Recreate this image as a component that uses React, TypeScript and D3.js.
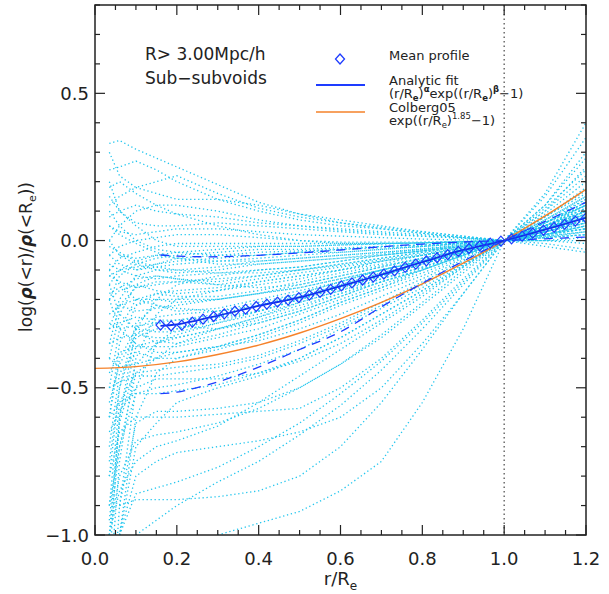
import React from 'react';
import * as d3 from 'd3';

// ---------- data ----------
const radii = [0.035, 0.06, 0.1, 0.15, 0.2, 0.3, 0.4, 0.5, 0.6, 0.7, 0.8, 0.9, 1.0, 1.1, 1.2];

type V = number | null;
const subvoidProfiles: V[][] = [
  [0.33, 0.34, 0.31, 0.28, 0.25, 0.19, 0.13, 0.09, 0.07, 0.05, 0.03, 0.015, 0, -0.02, -0.04],
  [0.24, 0.25, 0.27, 0.24, 0.2, 0.14, 0.1, 0.07, 0.05, 0.04, 0.025, 0.01, 0, 0.01, 0.02],
  [0.3, 0.22, 0.18, 0.2, 0.22, 0.16, 0.11, 0.08, 0.06, 0.045, 0.03, 0.015, 0, 0.03, 0.06],
  [0.12, 0.15, 0.18, 0.16, 0.14, 0.14, 0.12, 0.09, 0.06, 0.04, 0.025, 0.01, 0, 0.02, 0.05],
  [0.08, 0.1, 0.12, 0.1, 0.09, 0.08, 0.06, 0.05, 0.04, 0.03, 0.02, 0.01, 0, 0.05, 0.12],
  [0.15, 0.1, 0.06, 0.05, 0.05, 0.06, 0.05, 0.04, 0.03, 0.02, 0.015, 0.008, 0, 0.015, 0.03],
  [0.05, 0.03, 0.02, 0.03, 0.04, 0.04, 0.03, 0.02, 0.015, 0.01, 0.005, 0.002, 0, 0.0, -0.01],
  [-0.05, -0.02, 0.0, 0.01, 0.02, 0.02, 0.01, 0.0, -0.005, -0.005, -0.005, -0.003, 0, 0.02, 0.05],
  [-0.1, -0.06, -0.04, -0.02, -0.01, -0.01, -0.01, -0.01, -0.01, -0.01, -0.008, -0.004, 0, 0.01, 0.03],
  [-0.2, -0.12, -0.08, -0.06, -0.05, -0.04, -0.03, -0.03, -0.025, -0.02, -0.015, -0.008, 0, 0.03, 0.07],
  [-0.15, -0.1, -0.09, -0.08, -0.07, -0.06, -0.05, -0.04, -0.03, -0.025, -0.02, -0.01, 0, 0.02, 0.06],
  [0.0, -0.05, -0.08, -0.1, -0.1, -0.09, -0.07, -0.06, -0.05, -0.04, -0.03, -0.015, 0, 0.04, 0.09],
  [-0.3, -0.2, -0.12, -0.1, -0.11, -0.1, -0.08, -0.07, -0.06, -0.05, -0.035, -0.02, 0, 0.05, 0.12],
  [-0.08, -0.1, -0.12, -0.13, -0.12, -0.11, -0.1, -0.09, -0.07, -0.05, -0.035, -0.018, 0, 0.03, 0.08],
  [-0.4, -0.25, -0.15, -0.12, -0.13, -0.14, -0.12, -0.1, -0.08, -0.06, -0.04, -0.02, 0, 0.04, 0.1],
  [-0.12, -0.14, -0.16, -0.15, -0.14, -0.15, -0.13, -0.11, -0.09, -0.07, -0.05, -0.025, 0, 0.06, 0.14],
  [-0.2, -0.17, -0.15, -0.17, -0.18, -0.17, -0.15, -0.13, -0.1, -0.08, -0.05, -0.025, 0, 0.02, 0.05],
  [-0.5, -0.3, -0.2, -0.18, -0.19, -0.19, -0.17, -0.14, -0.11, -0.085, -0.06, -0.03, 0, 0.04, 0.09],
  [-0.25, -0.22, -0.2, -0.2, -0.21, -0.2, -0.18, -0.15, -0.12, -0.09, -0.06, -0.03, 0, 0.03, 0.06],
  [null, null, -0.1, -0.08, -0.06, -0.05, -0.05, -0.04, -0.04, -0.03, -0.02, -0.01, 0, -0.01, -0.03],
  [null, -0.05, -0.06, -0.05, -0.04, -0.03, -0.02, -0.02, -0.015, -0.01, -0.008, -0.004, 0, 0.01, 0.02],
  [-0.6, -0.4, -0.3, -0.26, -0.25, -0.24, -0.21, -0.18, -0.14, -0.1, -0.07, -0.035, 0, 0.04, 0.08],
  [-0.3, -0.28, -0.26, -0.27, -0.27, -0.25, -0.22, -0.19, -0.15, -0.11, -0.075, -0.04, 0, 0.05, 0.1],
  [-0.8, -0.5, -0.33, -0.3, -0.3, -0.27, -0.24, -0.2, -0.16, -0.12, -0.08, -0.04, 0, 0.03, 0.07],
  [-0.15, -0.25, -0.3, -0.31, -0.31, -0.28, -0.25, -0.21, -0.17, -0.13, -0.09, -0.045, 0, 0.06, 0.12],
  [-0.35, -0.33, -0.32, -0.33, -0.33, -0.3, -0.26, -0.22, -0.18, -0.14, -0.095, -0.048, 0, 0.04, 0.08],
  [-1.0, -0.6, -0.36, -0.34, -0.35, -0.32, -0.28, -0.24, -0.19, -0.14, -0.1, -0.05, 0, 0.05, 0.11],
  [-0.45, -0.38, -0.36, -0.36, -0.36, -0.33, -0.3, -0.25, -0.2, -0.15, -0.1, -0.05, 0, 0.03, 0.06],
  [-0.2, -0.3, -0.35, -0.38, -0.38, -0.36, -0.32, -0.27, -0.21, -0.16, -0.11, -0.055, 0, 0.07, 0.15],
  [-0.7, -0.45, -0.38, -0.4, -0.4, -0.37, -0.33, -0.28, -0.22, -0.17, -0.12, -0.06, 0, 0.05, 0.1],
  [null, -0.22, -0.24, -0.23, -0.22, -0.2, -0.18, -0.16, -0.13, -0.1, -0.07, -0.035, 0, 0.02, 0.04],
  [-0.1, -0.15, -0.2, -0.22, -0.24, -0.23, -0.2, -0.17, -0.14, -0.1, -0.07, -0.035, 0, 0.04, 0.09],
  [-0.9, -0.55, -0.45, -0.44, -0.43, -0.42, -0.39, -0.34, -0.28, -0.21, -0.14, -0.07, 0, 0.06, 0.13],
  [-0.5, -0.48, -0.46, -0.46, -0.45, -0.43, -0.4, -0.35, -0.29, -0.22, -0.15, -0.075, 0, 0.08, 0.18],
  [-1.0, -0.7, -0.52, -0.5, -0.49, -0.46, -0.42, -0.37, -0.3, -0.23, -0.16, -0.08, 0, 0.05, 0.1],
  [-0.6, -0.55, -0.52, -0.52, -0.51, -0.49, -0.45, -0.4, -0.33, -0.25, -0.17, -0.085, 0, 0.1, 0.22],
  [null, -0.9, -0.62, -0.58, -0.58, -0.57, -0.55, -0.5, -0.42, -0.32, -0.21, -0.1, 0, 0.07, 0.14],
  [-0.8, -0.65, -0.6, -0.6, -0.6, -0.59, -0.58, -0.57, -0.5, -0.4, -0.27, -0.13, 0, 0.12, 0.28],
  [-1.0, -0.8, -0.68, -0.66, -0.65, -0.62, -0.57, -0.5, -0.42, -0.33, -0.22, -0.11, 0, 0.09, 0.2],
  [null, -1.0, -0.86, -0.84, -0.82, -0.77, -0.7, -0.62, -0.52, -0.41, -0.28, -0.14, 0, 0.15, 0.35],
  [null, -0.9, -0.88, -0.88, -0.88, -0.87, -0.85, -0.8, -0.7, -0.55, -0.37, -0.18, 0, 0.1, 0.25],
  [null, null, null, null, null, -1.0, -0.96, -0.92, -0.85, -0.75, -0.55, -0.3, 0, 0.16, 0.4],
  [null, -1.0, -0.8, -0.75, -0.72, -0.7, -0.68, -0.65, -0.6, -0.5, -0.35, -0.18, 0, 0.12, 0.3],
  [-1.0, -0.85, -0.75, -0.7, -0.68, -0.63, -0.55, -0.46, -0.37, -0.28, -0.19, -0.09, 0, 0.08, 0.16],
  [null, null, -1.0, -0.95, -0.9, -0.82, -0.75, -0.66, -0.56, -0.44, -0.3, -0.15, 0, 0.11, 0.24],
  [-1.4, -0.9, -0.5, -0.35, -0.3, -0.26, -0.22, -0.18, -0.14, -0.1, -0.07, -0.035, 0, 0.03, 0.07],
  [-1.2, -0.75, -0.4, -0.25, -0.2, -0.17, -0.14, -0.12, -0.1, -0.07, -0.05, -0.025, 0, 0.02, 0.04],
  [-1.1, -0.6, -0.3, -0.2, -0.15, -0.12, -0.1, -0.09, -0.07, -0.05, -0.035, -0.018, 0, 0.04, 0.08],
  [-0.9, -0.7, -0.45, -0.4, -0.35, -0.3, -0.26, -0.21, -0.17, -0.12, -0.08, -0.04, 0, 0.06, 0.12],
  [-0.55, -0.42, -0.32, -0.28, -0.29, -0.3, -0.28, -0.24, -0.19, -0.14, -0.1, -0.05, 0, 0.05, 0.1],
  [-0.05, -0.08, -0.1, -0.09, -0.08, -0.07, -0.06, -0.05, -0.04, -0.03, -0.02, -0.01, 0, 0.02, 0.04],
  [0.1, 0.05, 0.0, -0.03, -0.04, -0.05, -0.04, -0.035, -0.03, -0.02, -0.015, -0.008, 0, 0.03, 0.07],
  [-0.35, -0.22, -0.16, -0.14, -0.14, -0.13, -0.12, -0.1, -0.08, -0.06, -0.04, -0.02, 0, 0.05, 0.11],
  [null, null, -0.22, -0.18, -0.17, -0.16, -0.14, -0.12, -0.1, -0.07, -0.05, -0.025, 0, 0.04, 0.09],
  [0.2, 0.1, 0.05, 0.0, -0.02, -0.02, -0.02, -0.02, -0.015, -0.012, -0.008, -0.004, 0, 0.0, 0.01],
  [-0.6, -0.35, -0.22, -0.2, -0.2, -0.2, -0.18, -0.16, -0.13, -0.1, -0.065, -0.032, 0, 0.045, 0.1],
  [-0.02, -0.04, -0.07, -0.09, -0.1, -0.11, -0.11, -0.1, -0.085, -0.065, -0.045, -0.022, 0, 0.02, 0.05],
  [0.05, 0.02, -0.01, -0.04, -0.06, -0.08, -0.08, -0.07, -0.06, -0.045, -0.03, -0.015, 0, 0.015, 0.03],
  [-0.18, -0.16, -0.13, -0.12, -0.13, -0.15, -0.16, -0.15, -0.12, -0.09, -0.06, -0.03, 0, 0.05, 0.11],
  [-0.75, -0.5, -0.28, -0.22, -0.23, -0.24, -0.22, -0.19, -0.15, -0.11, -0.075, -0.038, 0, 0.04, 0.08],
  [null, null, -0.3, -0.35, -0.32, -0.28, -0.24, -0.2, -0.16, -0.12, -0.08, -0.04, 0, 0.06, 0.13],
  [-0.28, -0.3, -0.29, -0.28, -0.27, -0.26, -0.24, -0.2, -0.16, -0.12, -0.08, -0.04, 0, 0.035, 0.07],
  [-1.3, -1.0, -0.6, -0.45, -0.4, -0.36, -0.32, -0.27, -0.21, -0.16, -0.1, -0.05, 0, 0.06, 0.12],
  [-0.95, -0.62, -0.42, -0.35, -0.33, -0.3, -0.27, -0.23, -0.18, -0.13, -0.09, -0.045, 0, 0.05, 0.09],
  [0.18, 0.2, 0.16, 0.12, 0.09, 0.05, 0.02, 0.0, -0.01, -0.01, -0.008, -0.004, 0, 0.0, 0.0],
  [0.0, 0.05, 0.1, 0.12, 0.12, 0.1, 0.07, 0.05, 0.035, 0.025, 0.015, 0.008, 0, 0.02, 0.04],
  [-0.4, -0.43, -0.42, -0.4, -0.38, -0.36, -0.34, -0.3, -0.25, -0.19, -0.13, -0.065, 0, 0.06, 0.13],
  [-0.65, -0.58, -0.5, -0.47, -0.47, -0.47, -0.45, -0.41, -0.35, -0.27, -0.18, -0.09, 0, 0.08, 0.17],
  [null, -1.0, -0.7, -0.62, -0.55, -0.5, -0.46, -0.4, -0.33, -0.25, -0.17, -0.085, 0, 0.07, 0.15],
  [-0.12, -0.1, -0.07, -0.05, -0.06, -0.07, -0.07, -0.06, -0.05, -0.04, -0.028, -0.014, 0, 0.01, 0.02],
];

const meanR = [0.16, 0.186, 0.212, 0.238, 0.264, 0.29, 0.316, 0.342, 0.368, 0.394, 0.42, 0.446, 0.472, 0.498, 0.524, 0.55, 0.576, 0.602, 0.628, 0.654, 0.68, 0.706, 0.732, 0.758, 0.784, 0.81, 0.836, 0.862, 0.888, 0.914, 0.94, 0.966, 0.992, 1.018, 1.044, 1.07, 1.096, 1.122, 1.148, 1.174, 1.2];
const meanV = [-0.287, -0.29, -0.287, -0.277, -0.267, -0.258, -0.249, -0.24, -0.233, -0.224, -0.216, -0.209, -0.202, -0.194, -0.185, -0.176, -0.166, -0.154, -0.144, -0.134, -0.124, -0.114, -0.103, -0.091, -0.08, -0.069, -0.058, -0.048, -0.037, -0.027, -0.018, -0.009, -0.002, 0.006, 0.015, 0.025, 0.035, 0.045, 0.055, 0.066, 0.077];

const bandR = [0.16, 0.2, 0.3, 0.4, 0.5, 0.6, 0.7, 0.8, 0.9, 1.0, 1.1, 1.2];
const fitV = [-0.29, -0.285, -0.255, -0.222, -0.193, -0.155, -0.116, -0.073, -0.032, 0, 0.037, 0.077];
const upperV = [-0.049, -0.053, -0.055, -0.05, -0.042, -0.032, -0.021, -0.012, -0.005, 0, 0.006, 0.012];
const lowerV = [-0.52, -0.515, -0.48, -0.43, -0.37, -0.31, -0.225, -0.145, -0.07, 0, 0.065, 0.13];

const colbergR = [0, 0.1, 0.2, 0.3, 0.4, 0.5, 0.6, 0.7, 0.8, 0.9, 1.0, 1.1, 1.2];
const colbergV = [-0.434, -0.428, -0.412, -0.387, -0.355, -0.314, -0.265, -0.21, -0.147, -0.077, 0, 0.0837, 0.174];

const xTicksMajor = [0, 0.2, 0.4, 0.6, 0.8, 1.0, 1.2];
const yTicksMajor = [-1.0, -0.5, 0.0, 0.5];

// ---------- layout ----------
const W = 609, H = 594;
const L = 95, Rt = 586, T = 5, B = 535;
const CYAN = '#22c6ee';
const BLUE = '#1e3cff';
const ORANGE = '#f5822a';
const FONT = '"DejaVu Sans", Verdana, sans-serif';

export default function App() {
  const x = d3.scaleLinear().domain([0, 1.2]).range([L, Rt]);
  const y = d3.scaleLinear().domain([-1, 0.8]).range([B, T]);

  const lineNullable = d3.line<[number, V]>()
    .defined(d => d[1] !== null)
    .x(d => x(d[0]))
    .y(d => y(d[1] as number));
  const smooth = d3.line<[number, number]>().x(d => x(d[0])).y(d => y(d[1])).curve(d3.curveCatmullRom);

  const xMinor = d3.range(0, 1.2001, 0.05);
  const yMinor = d3.range(-1, 0.8001, 0.1);

  const diamond = 'M0,-5L4.5,0L0,5L-4.5,0Z';

  const ticks: React.ReactNode[] = [];
  xMinor.forEach((v, i) => {
    const major = xTicksMajor.some(m => Math.abs(m - v) < 1e-6);
    const len = major ? 10 : 5;
    const px = x(v);
    ticks.push(<line key={'xb' + i} x1={px} x2={px} y1={B} y2={B - len} stroke="#222" strokeWidth={1.2} />);
    ticks.push(<line key={'xt' + i} x1={px} x2={px} y1={T} y2={T + len} stroke="#222" strokeWidth={1.2} />);
  });
  yMinor.forEach((v, i) => {
    const major = yTicksMajor.some(m => Math.abs(m - v) < 1e-6);
    const len = major ? 10 : 5;
    const py = y(v);
    ticks.push(<line key={'yl' + i} x1={L} x2={L + len} y1={py} y2={py} stroke="#222" strokeWidth={1.2} />);
    ticks.push(<line key={'yr' + i} x1={Rt} x2={Rt - len} y1={py} y2={py} stroke="#222" strokeWidth={1.2} />);
  });

  const fmt = d3.format('.1f');

  return (
    <svg width={W} height={H} style={{ position: 'absolute', left: 0, top: 0, background: '#fff' }} fontFamily={FONT}>
      <defs>
        <clipPath id="plot"><rect x={L} y={T} width={Rt - L} height={B - T} /></clipPath>
      </defs>
      <rect x={0} y={0} width={W} height={H} fill="#fff" />
      <g clipPath="url(#plot)">
        {subvoidProfiles.map((p, i) => (
          <path key={i} d={lineNullable(radii.map((r, j) => [r, p[j]] as [number, V])) || ''}
            fill="none" stroke={CYAN} strokeWidth={1.3} strokeDasharray="1.3 2.7" />
        ))}
        <line x1={x(1)} x2={x(1)} y1={T} y2={B} stroke="#555" strokeWidth={1.3} strokeDasharray="1.5 3" />
        <path d={smooth(colbergR.map((r, j) => [r, colbergV[j]] as [number, number])) || ''} fill="none" stroke={ORANGE} strokeWidth={1.4} />
        <path d={smooth(bandR.map((r, j) => [r, upperV[j]] as [number, number])) || ''} fill="none" stroke={BLUE} strokeWidth={1.3} strokeDasharray="9 7" />
        <path d={smooth(bandR.map((r, j) => [r, lowerV[j]] as [number, number])) || ''} fill="none" stroke={BLUE} strokeWidth={1.3} strokeDasharray="9 7" />
        <path d={smooth(bandR.map((r, j) => [r, fitV[j]] as [number, number])) || ''} fill="none" stroke="#1030e8" strokeWidth={1.8} />
        {meanR.map((r, j) => (
          <path key={'d' + j} d={diamond} transform={`translate(${x(r)},${y(meanV[j])})`} fill="none" stroke={BLUE} strokeWidth={1.2} />
        ))}
      </g>

      {/* axes */}
      <rect x={L} y={T} width={Rt - L} height={B - T} fill="none" stroke="#222" strokeWidth={1.5} />
      {ticks}

      {xTicksMajor.map((v, i) => (
        <text key={'xl' + i} x={x(v)} y={565} textAnchor="middle" fontSize={18} fill="#222">{fmt(v)}</text>
      ))}
      {yTicksMajor.map((v, i) => (
        <text key={'yl' + i} x={89} y={y(v) + 6.5} textAnchor="end" fontSize={18} fill="#222">{fmt(v)}</text>
      ))}

      <text x={(L + Rt) / 2} y={585} textAnchor="middle" fontSize={18} fill="#222">
        r/R<tspan fontSize={12} dy={5}>e</tspan>
      </text>

      <text transform="translate(32,257) rotate(-90)" textAnchor="middle" fontSize={17} fill="#222">
        log(<tspan fontWeight="bold" fontStyle="italic">ρ</tspan>(&lt;r)/<tspan fontWeight="bold" fontStyle="italic">ρ</tspan>(&lt;R<tspan fontSize={11} dy={4}>e</tspan><tspan dy={-4}>))</tspan>
      </text>

      <text x={145} y={60} fontSize={17} fill="#222">R&gt; 3.00Mpc/h</text>
      <text x={145} y={84} fontSize={17} fill="#222">Sub−subvoids</text>

      {/* legend */}
      <path d={diamond} transform={`translate(340,59)`} fill="none" stroke={BLUE} strokeWidth={1.3} />
      <text x={389} y={60} fontSize={13} fill="#222">Mean profile</text>
      <line x1={316} x2={365} y1={85} y2={85} stroke={BLUE} strokeWidth={2} />
      <text x={389} y={85} fontSize={13} fill="#222">Analytic fit</text>
      <text x={389} y={98} fontSize={13} fill="#222">
        (r/R<tspan fontSize={8.5} dy={3} fontWeight="bold">e</tspan><tspan dy={-3}>)</tspan><tspan fontSize={8.5} dy={-6} fontWeight="bold">α</tspan><tspan dy={6}>exp((r/R</tspan><tspan fontSize={8.5} dy={3} fontWeight="bold">e</tspan><tspan dy={-3}>)</tspan><tspan fontSize={8.5} dy={-6} fontWeight="bold">β</tspan><tspan dy={6}>−1)</tspan>
      </text>
      <line x1={316} x2={365} y1={112} y2={112} stroke={ORANGE} strokeWidth={1.6} />
      <text x={389} y={112} fontSize={13} fill="#222">Colberg05</text>
      <text x={389} y={125} fontSize={13} fill="#222">
        exp((r/R<tspan fontSize={8.5} dy={3}>e</tspan><tspan dy={-3}>)</tspan><tspan fontSize={8.5} dy={-6}>1.85</tspan><tspan dy={6}>−1)</tspan>
      </text>
    </svg>
  );
}
